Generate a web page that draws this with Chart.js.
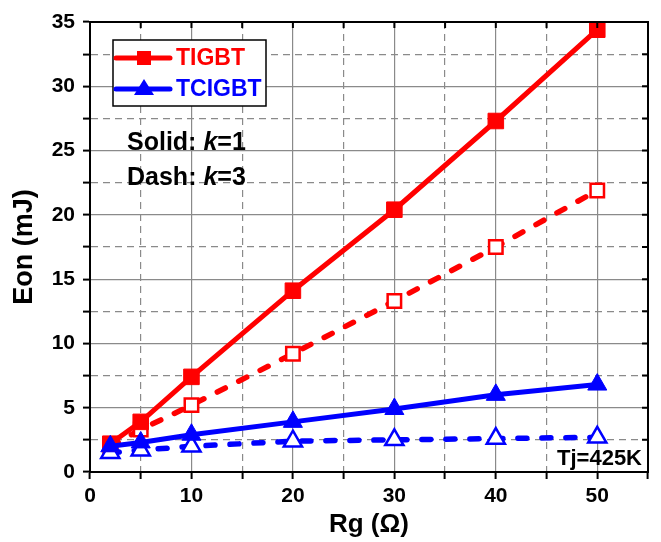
<!DOCTYPE html>
<html><head><meta charset="utf-8">
<script src="https://cdn.jsdelivr.net/npm/chart.js@4.4.1/dist/chart.umd.min.js"></script>
<style>html,body{margin:0;padding:0;background:#fff}#wrap{width:661px;height:542px}</style>
</head><body><div id="wrap"><canvas id="c" width="661" height="542"></canvas></div>
<script>
const rg = [2, 5, 10, 20, 30, 40, 50];
const tigbtK1 = [2.2, 3.9, 7.4, 14.1, 20.4, 27.3, 34.4];
const tigbtK3 = [2.0, 3.3, 5.2, 9.2, 13.3, 17.5, 21.9];
const tcigbtK1 = [2.0, 2.3, 2.9, 3.9, 4.9, 6.0, 6.8];
const tcigbtK3 = [1.5, 1.7, 2.0, 2.4, 2.5, 2.6, 2.7];
const xTicks = [0, 10, 20, 30, 40, 50];
const yTicks = [0, 5, 10, 15, 20, 25, 30, 35];
const legendNames = ['TIGBT', 'TCIGBT'];
const noteLines = [['Solid: ', 'k', '=1'], ['Dash: ', 'k', '=3']];
const tjLabel = 'Tj=425K';

const RED = '#ff0000', BLUE = '#0000ff';
const FONT = '"Liberation Sans", Arial, sans-serif';
const pts = a => rg.map((x, i) => ({x, y: a[i]}));

const frame = {
  id: 'frame',
  afterDraw(chart) {
    const {ctx, chartArea: a, scales: {x, y}} = chart;
    ctx.save();
    ctx.strokeStyle = '#000';
    ctx.lineWidth = 2;
    ctx.beginPath();
    ctx.moveTo(a.left - 1, a.top); ctx.lineTo(a.right, a.top); ctx.lineTo(a.right, a.bottom + 1);
    ctx.stroke();
    ctx.beginPath();
    x.ticks.forEach(t => { const px = x.getPixelForValue(t.value); if (px > a.left + 2 && px < a.right - 2) { ctx.moveTo(px, a.top); ctx.lineTo(px, a.top + 6); } });
    y.ticks.forEach(t => { const py = y.getPixelForValue(t.value); if (py > a.top + 2 && py < a.bottom - 2) { ctx.moveTo(a.right, py); ctx.lineTo(a.right - 6, py); } });
    ctx.stroke();

    // legend box
    const bx = 113, by = 40, bw = 153, bh = 66;
    ctx.fillStyle = '#fff';
    ctx.fillRect(bx, by, bw, bh);
    ctx.lineWidth = 1.5;
    ctx.strokeStyle = '#000';
    ctx.strokeRect(bx, by, bw, bh);
    const cols = [RED, BLUE];
    legendNames.forEach((n, i) => {
      const cy = by + 18 + i * 31;
      ctx.strokeStyle = cols[i]; ctx.fillStyle = cols[i];
      ctx.lineWidth = 5; ctx.lineCap = 'round';
      ctx.beginPath(); ctx.moveTo(116, cy); ctx.lineTo(170, cy); ctx.stroke();
      ctx.beginPath();
      if (i === 0) { ctx.rect(137, cy - 7, 14, 14); }
      else { ctx.moveTo(144, cy - 10); ctx.lineTo(154, cy + 6); ctx.lineTo(134, cy + 6); ctx.closePath(); }
      ctx.fill();
      ctx.font = 'bold 23px ' + FONT;
      ctx.textBaseline = 'middle'; ctx.textAlign = 'left';
      ctx.fillText(n, 176, cy + 1);
    });

    // notes
    ctx.fillStyle = '#000';
    ctx.textBaseline = 'middle';
    noteLines.forEach((parts, i) => {
      let xx = 127; const yy = 143 + i * 35;
      parts.forEach((p, j) => {
        ctx.font = (j === 1 ? 'italic bold ' : 'bold ') + '25px ' + FONT;
        ctx.fillText(p, xx, yy);
        xx += ctx.measureText(p).width;
      });
    });
    ctx.font = 'bold 22px ' + FONT;
    ctx.textAlign = 'right';
    ctx.fillText(tjLabel, a.right - 6, 459);
    ctx.restore();
  }
};

new Chart(document.getElementById('c'), {
  type: 'line',
  data: {
    datasets: [
      {label: 'TCIGBT k=1', data: pts(tcigbtK1), borderColor: BLUE, backgroundColor: BLUE, borderWidth: 5,
       pointStyle: 'triangle', pointRadius: 11, pointBorderWidth: 1, order: 0},
      {label: 'TIGBT k=1', data: pts(tigbtK1), borderColor: RED, backgroundColor: RED, borderWidth: 5,
       pointStyle: 'rect', pointRadius: 11, pointBorderWidth: 1, order: 1},
      {label: 'TCIGBT k=3', data: pts(tcigbtK3), borderColor: BLUE, backgroundColor: '#fff', borderWidth: 5.5,
       borderDash: [9, 15], borderCapStyle: 'round',
       pointStyle: 'triangle', pointRadius: 10.5, pointBorderWidth: 2.5, order: 2},
      {label: 'TIGBT k=3', data: pts(tigbtK3), borderColor: RED, backgroundColor: '#fff', borderWidth: 5.5,
       borderDash: [9, 15], borderCapStyle: 'round',
       pointStyle: 'rect', pointRadius: 9.5, pointBorderWidth: 2.5, order: 3}
    ]
  },
  options: {
    responsive: false,
    animation: false,
    events: [],
    layout: {padding: {top: 22, right: 11, left: 0, bottom: 0}},
    plugins: {legend: {display: false}, tooltip: {enabled: false}},
    elements: {line: {tension: 0}},
    scales: {
      x: {
        type: 'linear', min: 0, max: 55,
        afterFit: s => { s.height = 70; },
        ticks: {stepSize: 5, autoSkip: false, maxRotation: 0, color: '#000', padding: 5,
          font: {family: FONT, size: 21, weight: 'bold'},
          callback: v => xTicks.includes(v) ? String(v) : ''},
        grid: {color: '#8a8a8a', lineWidth: 1.2, tickColor: '#000', tickWidth: 2, tickLength: 7},
        border: {color: '#000', width: 2, dash: c => (c.tick && c.tick.value % 10 !== 0) ? [7, 5] : []},
        title: {display: true, text: 'Rg (Ω)', color: '#000', font: {family: FONT, size: 26, weight: 'bold'}, padding: {top: 0, bottom: 2}}
      },
      y: {
        type: 'linear', min: 0, max: 35,
        afterFit: s => { s.width = 90; },
        ticks: {stepSize: 2.5, autoSkip: false, color: '#000', padding: 8,
          font: {family: FONT, size: 21, weight: 'bold'},
          callback: v => yTicks.includes(v) ? String(v) : ''},
        grid: {color: '#8a8a8a', lineWidth: 1.2, tickColor: '#000', tickWidth: 2, tickLength: 7},
        border: {color: '#000', width: 2, dash: c => (c.tick && c.tick.value % 5 !== 0) ? [7, 5] : []},
        title: {display: true, text: 'Eon (mJ)', color: '#000', font: {family: FONT, size: 27, weight: 'bold'}, padding: {top: 8, bottom: 4}}
      }
    }
  },
  plugins: [frame]
});
</script></body></html>
